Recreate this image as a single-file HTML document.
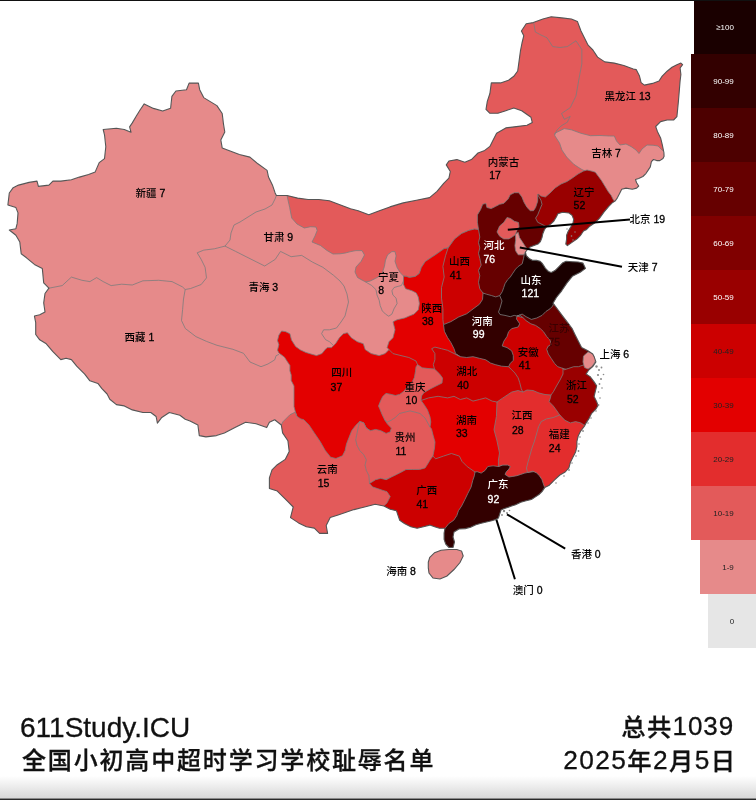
<!DOCTYPE html>
<html><head><meta charset="utf-8"><style>
html,body{margin:0;padding:0;background:#fff;}
body{width:756px;height:800px;position:relative;overflow:hidden;font-family:"Liberation Sans","Noto Sans CJK SC",sans-serif;}
svg text{font-family:"Liberation Sans","Noto Sans CJK SC",sans-serif;font-size:10.5px;font-weight:500;}
.bt{position:absolute;font-size:24px;line-height:1;color:#111;white-space:nowrap;-webkit-text-stroke:0.3px #111;}
.cj{font-weight:500;}
.shade{position:absolute;left:0;top:776px;width:756px;height:22px;background:linear-gradient(#fff,#d8d8d8);}
.topline{position:absolute;left:0;top:0;width:756px;height:1px;background:#111;}
.botline{position:absolute;left:0;top:798px;width:756px;height:2px;background:linear-gradient(#8a8a8a 50%,#2a2a2a 50%);}
</style></head><body>
<svg width="756" height="800" viewBox="0 0 756 800" style="position:absolute;left:0;top:0">
<defs><clipPath id="cn"><polygon points="7.9,204.9 9.3,193 13.2,187.7 18.5,185.1 29.1,182.4 37,181.1 38.4,186.4 48.9,185.1 52.9,181.1 60.8,181.1 71.4,179.8 79.4,177.1 88.6,174.5 95.2,171.9 99.2,162.6 104.5,158.6 105.8,146.7 104.5,134.8 103.2,129.5 116.4,128.2 124.3,129.5 131,132.2 129.6,126.9 132.3,122.9 136.2,116.3 140.2,109.7 144.2,103.9 153.4,108.4 162.7,111 170.6,108.3 171.9,96.3 175.9,91 186.5,89.7 189.1,83.1 198.4,83.1 199.7,89.7 203.7,97.6 210.3,101.6 216.9,105.6 222.2,113.5 223.5,124.1 224.8,132 220.8,139.9 222.2,147.9 228.8,150.5 239.4,154.5 249.9,157.1 257.9,163.8 267.1,170.4 268.5,177 272.4,184.9 275.1,192.9 276.4,195.5 287,195.5 297.6,198.1 308.1,199.5 318.7,199.5 329.3,200.8 339.9,204.8 350.5,208.7 358.2,210.8 368.8,214.8 379.4,210.8 389.9,206.9 403.2,202.9 416.4,200.3 429.6,197.6 437,191.4 443.7,183.4 448.9,178.1 450.3,171.5 446.3,164.9 448.9,161 456.9,159.6 464.8,162.3 471.4,159.6 478,153 484.7,150.4 489.9,146.4 493.9,138.5 496.6,133.2 505.8,127.9 516.4,126.6 527,125.2 532.3,122.6 531,117.3 521.7,110.7 513.8,108 505.8,110.7 497.9,113.3 489.9,113.3 486,109.4 487.3,101.4 489.9,93.5 491.3,82.9 500.5,82.9 508.5,80.3 513.8,76.3 517.7,71 519,61.7 520.4,51.2 522,43 523.8,35.7 521.4,31 526.2,23.8 533.3,22.6 542.9,19 551.2,16.7 561.9,17.9 571.4,19 577.4,21.4 581,31 584.5,38.1 588.1,45.2 592.9,50 597.6,57.1 604.8,61.9 614.3,63.1 623.8,65.5 633.3,69 636.2,69.6 639.5,76.1 641.1,82.6 644.4,85.1 652.5,83.4 659,81 662.2,76.1 667.1,71.2 672,67.2 676.9,64.7 680.9,63.1 682.6,64.7 680.1,68 680.9,74.5 680.1,81 679.3,90.7 678.5,100.5 677.7,108.6 676.9,116.7 673.6,120 667.1,120 660.6,121.6 655.7,126.5 657.4,131.4 660.6,137.9 662.2,144.4 663.9,152.5 664.1,156.3 663,158.5 659.8,160.6 656.7,160.6 653.5,159.5 651.4,161.6 650.3,166.9 648.2,170.1 646.1,173.3 642.9,176.5 638.7,178.6 635.5,179.6 636.6,182.8 638.7,186 636.6,188.1 632.3,189.2 626,188.1 621.7,189.2 619.6,193.4 617.5,197.6 615.4,200.8 612.2,202.9 609,206.1 604.1,211.9 599.4,218.3 594.6,223 589.8,226.2 586.7,229.4 583.5,231 580.3,235.7 577.1,238.9 572.4,242.1 567.4,245.6 565.8,244 566.6,239.2 566.6,235.2 568.2,231.3 570.6,227.3 572.9,223.3 573.7,219.4 572.1,215.4 569,213 562.6,212.2 557.9,213.8 556.3,217 553.9,221 550.7,224.1 546.7,226.5 544.4,229.7 542.8,233.7 542,237.6 540.4,241.6 538,244 534,245.6 530.1,247.1 527.7,249.5 525.4,252 526.3,255.7 529.1,258.5 532.8,260.4 536.5,260.4 540.2,261.3 542,263.1 543.9,265.9 545.7,268.7 548.5,271.5 551.3,272.4 555,270.6 558.7,266.9 562.4,263.1 566.1,261.3 572.3,261.7 578,262 582.9,263.1 585.5,268.4 580.2,272.3 572.3,276.3 567,282.9 561.7,290.8 556.4,297.5 553,303.2 557.8,309.5 562.5,315.9 567.3,322.2 572.1,328.6 575.2,334.9 578.4,341.3 581.6,347.6 587.9,350.8 592.7,354 594.3,357.1 595.9,361.9 592.7,366.7 589,369.8 586.1,374 590.1,376.6 594.1,381.9 596.7,385.9 595.4,391.2 594.1,396.5 596.7,401.7 598,405.7 595.4,409.7 591.4,413.7 588.8,418.9 586.1,422.9 584.8,425.6 580.8,430.8 578.2,436.1 576.9,441.4 576.9,446.7 575.6,452 572.9,457.3 570.3,462.6 568.9,467.9 565.2,472 559.9,475 554.6,479.9 549.3,485.2 544.7,487.6 542,491.6 539.4,494.2 535.4,496.9 531.4,499.5 526.1,500.8 520.8,502.2 515.6,504.8 511.6,506.1 507.6,507.5 503.7,508.8 501,510.1 499.7,514.1 498.4,518 495.7,519.4 491.7,520.7 486.5,522 481.2,523.3 475.9,524.7 470.6,527.3 465.3,528.6 459,529 454,532 453,537 454.5,542 453,547.5 449,547.5 445.7,544.1 444.1,539.4 444.1,533 445,528.3 439.4,528.3 434.6,526.7 429.8,525.1 423.5,526.7 417.1,528.3 410.8,526.7 404.4,523.5 399.7,520.3 398.1,515.6 396.5,510.8 390.2,509.2 383.8,506 375.2,504.3 364.6,507 354,509.6 346.1,512.3 338.1,514.9 330.2,517.6 326.2,525.5 327.6,533.4 319.6,533.4 314.3,528.1 306.4,526.8 298.5,522.9 290.5,517.6 293.2,507 287.9,501.7 282.6,496.4 277.3,491.1 269.4,488.5 269.4,477.9 272,469.9 277.3,464.7 285.2,459.4 289.2,451.4 287.9,440.8 282.6,432.9 281.3,425 274.7,419.7 269.4,422.3 266.7,427.6 256.1,423.7 245.6,422.3 235,427.6 224.4,432.9 216.5,435.6 205.9,436.9 199.3,435.6 197.9,425 190,421 185.2,419.2 179.9,415.2 169.3,412.5 161.4,417.8 157.4,423.1 156.1,416.5 150.8,412.5 142.9,412.5 132.3,409.9 124.3,405.9 116.4,404.6 109.8,399.3 107.1,394 101.9,388.7 97.9,383.4 89.9,380.8 84.7,374.2 76.7,366.2 71.4,359.6 66.1,358.3 60.8,359.6 52.9,351.7 46.3,343.8 39.7,339.8 35.7,334.5 35.7,322.6 34.4,316 39.7,314.7 45,312 43.7,302.8 45,293.5 48.9,288.2 43.7,282.9 42.3,268.4 34.4,264.4 26.5,257.8 21.2,253.8 19.8,242 15.9,235.3 9.3,230 15.9,228.7 17.2,223.4 18,212.9 15.9,207.6"/></clipPath></defs>
<g clip-path="url(#cn)">
<polygon points="7.9,204.9 9.3,193 13.2,187.7 18.5,185.1 29.1,182.4 37,181.1 38.4,186.4 48.9,185.1 52.9,181.1 60.8,181.1 71.4,179.8 79.4,177.1 88.6,174.5 95.2,171.9 99.2,162.6 104.5,158.6 105.8,146.7 104.5,134.8 103.2,129.5 116.4,128.2 124.3,129.5 131,132.2 129.6,126.9 132.3,122.9 136.2,116.3 140.2,109.7 144.2,103.9 153.4,108.4 162.7,111 170.6,108.3 171.9,96.3 175.9,91 186.5,89.7 189.1,83.1 198.4,83.1 199.7,89.7 203.7,97.6 210.3,101.6 216.9,105.6 222.2,113.5 223.5,124.1 224.8,132 220.8,139.9 222.2,147.9 228.8,150.5 239.4,154.5 249.9,157.1 257.9,163.8 267.1,170.4 268.5,177 272.4,184.9 275.1,192.9 276.4,195.5 287,195.5 297.6,198.1 308.1,199.5 318.7,199.5 329.3,200.8 339.9,204.8 350.5,208.7 358.2,210.8 368.8,214.8 379.4,210.8 389.9,206.9 403.2,202.9 416.4,200.3 429.6,197.6 437,191.4 443.7,183.4 448.9,178.1 450.3,171.5 446.3,164.9 448.9,161 456.9,159.6 464.8,162.3 471.4,159.6 478,153 484.7,150.4 489.9,146.4 493.9,138.5 496.6,133.2 505.8,127.9 516.4,126.6 527,125.2 532.3,122.6 531,117.3 521.7,110.7 513.8,108 505.8,110.7 497.9,113.3 489.9,113.3 486,109.4 487.3,101.4 489.9,93.5 491.3,82.9 500.5,82.9 508.5,80.3 513.8,76.3 517.7,71 519,61.7 520.4,51.2 522,43 523.8,35.7 521.4,31 526.2,23.8 533.3,22.6 542.9,19 551.2,16.7 561.9,17.9 571.4,19 577.4,21.4 581,31 584.5,38.1 588.1,45.2 592.9,50 597.6,57.1 604.8,61.9 614.3,63.1 623.8,65.5 633.3,69 636.2,69.6 639.5,76.1 641.1,82.6 644.4,85.1 652.5,83.4 659,81 662.2,76.1 667.1,71.2 672,67.2 676.9,64.7 680.9,63.1 682.6,64.7 680.1,68 680.9,74.5 680.1,81 679.3,90.7 678.5,100.5 677.7,108.6 676.9,116.7 673.6,120 667.1,120 660.6,121.6 655.7,126.5 657.4,131.4 660.6,137.9 662.2,144.4 663.9,152.5 664.1,156.3 663,158.5 659.8,160.6 656.7,160.6 653.5,159.5 651.4,161.6 650.3,166.9 648.2,170.1 646.1,173.3 642.9,176.5 638.7,178.6 635.5,179.6 636.6,182.8 638.7,186 636.6,188.1 632.3,189.2 626,188.1 621.7,189.2 619.6,193.4 617.5,197.6 615.4,200.8 612.2,202.9 609,206.1 604.1,211.9 599.4,218.3 594.6,223 589.8,226.2 586.7,229.4 583.5,231 580.3,235.7 577.1,238.9 572.4,242.1 567.4,245.6 565.8,244 566.6,239.2 566.6,235.2 568.2,231.3 570.6,227.3 572.9,223.3 573.7,219.4 572.1,215.4 569,213 562.6,212.2 557.9,213.8 556.3,217 553.9,221 550.7,224.1 546.7,226.5 544.4,229.7 542.8,233.7 542,237.6 540.4,241.6 538,244 534,245.6 530.1,247.1 527.7,249.5 525.4,252 526.3,255.7 529.1,258.5 532.8,260.4 536.5,260.4 540.2,261.3 542,263.1 543.9,265.9 545.7,268.7 548.5,271.5 551.3,272.4 555,270.6 558.7,266.9 562.4,263.1 566.1,261.3 572.3,261.7 578,262 582.9,263.1 585.5,268.4 580.2,272.3 572.3,276.3 567,282.9 561.7,290.8 556.4,297.5 553,303.2 557.8,309.5 562.5,315.9 567.3,322.2 572.1,328.6 575.2,334.9 578.4,341.3 581.6,347.6 587.9,350.8 592.7,354 594.3,357.1 595.9,361.9 592.7,366.7 589,369.8 586.1,374 590.1,376.6 594.1,381.9 596.7,385.9 595.4,391.2 594.1,396.5 596.7,401.7 598,405.7 595.4,409.7 591.4,413.7 588.8,418.9 586.1,422.9 584.8,425.6 580.8,430.8 578.2,436.1 576.9,441.4 576.9,446.7 575.6,452 572.9,457.3 570.3,462.6 568.9,467.9 565.2,472 559.9,475 554.6,479.9 549.3,485.2 544.7,487.6 542,491.6 539.4,494.2 535.4,496.9 531.4,499.5 526.1,500.8 520.8,502.2 515.6,504.8 511.6,506.1 507.6,507.5 503.7,508.8 501,510.1 499.7,514.1 498.4,518 495.7,519.4 491.7,520.7 486.5,522 481.2,523.3 475.9,524.7 470.6,527.3 465.3,528.6 459,529 454,532 453,537 454.5,542 453,547.5 449,547.5 445.7,544.1 444.1,539.4 444.1,533 445,528.3 439.4,528.3 434.6,526.7 429.8,525.1 423.5,526.7 417.1,528.3 410.8,526.7 404.4,523.5 399.7,520.3 398.1,515.6 396.5,510.8 390.2,509.2 383.8,506 375.2,504.3 364.6,507 354,509.6 346.1,512.3 338.1,514.9 330.2,517.6 326.2,525.5 327.6,533.4 319.6,533.4 314.3,528.1 306.4,526.8 298.5,522.9 290.5,517.6 293.2,507 287.9,501.7 282.6,496.4 277.3,491.1 269.4,488.5 269.4,477.9 272,469.9 277.3,464.7 285.2,459.4 289.2,451.4 287.9,440.8 282.6,432.9 281.3,425 274.7,419.7 269.4,422.3 266.7,427.6 256.1,423.7 245.6,422.3 235,427.6 224.4,432.9 216.5,435.6 205.9,436.9 199.3,435.6 197.9,425 190,421 185.2,419.2 179.9,415.2 169.3,412.5 161.4,417.8 157.4,423.1 156.1,416.5 150.8,412.5 142.9,412.5 132.3,409.9 124.3,405.9 116.4,404.6 109.8,399.3 107.1,394 101.9,388.7 97.9,383.4 89.9,380.8 84.7,374.2 76.7,366.2 71.4,359.6 66.1,358.3 60.8,359.6 52.9,351.7 46.3,343.8 39.7,339.8 35.7,334.5 35.7,322.6 34.4,316 39.7,314.7 45,312 43.7,302.8 45,293.5 48.9,288.2 43.7,282.9 42.3,268.4 34.4,264.4 26.5,257.8 21.2,253.8 19.8,242 15.9,235.3 9.3,230 15.9,228.7 17.2,223.4 18,212.9 15.9,207.6" fill="#e68a8a"/>
<polyline points="48.9,288.2 62.2,285.6 71.4,277.1 82,280.3 89.9,281.6 96.6,277.6 103.2,281.6 111.1,285.6 121.7,284.2 132.3,285 142.9,280.8 158.7,280.3 172,281.6 182.5,286.9 185.2,289.5" fill="none" stroke="#7c7c7c" stroke-width="0.8"/>
<polyline points="185.2,289.5 190.6,288.5 201.2,284.5 206.5,277.9 205.1,267.3 201.2,259.4 197.2,252.8 203.8,250.1 214.4,248.8 225,246.1" fill="none" stroke="#7c7c7c" stroke-width="0.8"/>
<polyline points="225,246.1 230,240 231,233 234,225 240,222 248,217 256,212 265,209 272,205 275,199 276.4,195.5" fill="none" stroke="#7c7c7c" stroke-width="0.8"/>
<polyline points="185.2,289.5 183.5,299 182.6,309.6 181.5,320.5 185.3,328.5 195.9,336.6 206.5,341.4 217,345.3 232.9,349.3 243.5,353.3 250,362 261,366.7 267.9,364 274.7,359.9 276.1,355.7 278.9,354.4" fill="none" stroke="#7c7c7c" stroke-width="0.8"/>
<polyline points="225,246.1 235.6,251.4 246.1,256.7 256.7,262 264.7,266 275.2,259.4 280.5,251.4 291.1,256.7 301.7,255.4 312.3,262 322.9,267.3 333.4,275.2 340,281 344,286 347,294 348.5,302 347,308 345,316 341,322 336.5,328 329.5,329.8 323.6,329.8 321.6,333.7 325.6,339.7 329.5,341.7 333.5,345.6" fill="none" stroke="#7c7c7c" stroke-width="0.8"/>
<polygon points="365.4,281.8 371.7,285.5 376,289.7 377,295 379.2,300.3 380.2,305.6 382.3,310.9 385.5,314.1 388.7,316.2 391.9,314.1 394,308.8 397.1,303.5 396.1,298.2 392.9,295 391.9,290.8 394,287.6 397.1,286.6 401.4,285.5 403.5,281 404.6,277 410,270 400,245 385,245 370,270" fill="#e68a8a" stroke="#7c7c7c" stroke-width="0.8" stroke-linejoin="round"/>
<polygon points="287,185 287,195.5 289.7,207.5 291.7,218 297,224 304.3,228 310.6,226.7 316,227 317.2,230.5 315,236 312,242 320.5,245.5 327,250.5 333,254 340,253.8 345.3,253 350.6,251.6 355.9,250.6 362,250.6 364.5,255 361,261.5 356,267 355,272 357.5,277.5 362.2,280.2 365.4,281.8 369.6,281.3 373.9,279.2 378.1,277 382.3,272.8 384.4,266.5 385.5,260.1 387.6,254.8 391.9,251.6 395,251.6 396.1,255.9 395,261.2 397.1,267.5 400.3,272.8 403.5,276 406.7,276.5 409.4,277.4 415.3,276.4 419.3,273.4 421.3,267.5 425.2,261.5 431.2,257.5 437.1,253.6 444.1,248.6 448.1,247.9 454.5,239 461.5,233.5 468.5,230.5 474.5,229 478.5,229.5 500,236 540,215 585.7,171.4 581,169 573.8,164.3 566.7,157.1 561.9,150 559.5,142.9 554.8,135.7 554.8,133.3 564.3,128.6 571.4,129.8 581,133.3 590.5,135.7 600,135.5 609.5,136 614.3,136 616.5,141 620,145 626,144 631,146.5 636,150 639,153.5 642,149 647,145 653,145.2 658,146 662.5,150.5 672,152 700,60 690,0 500,0 460,140 290,180" fill="#e35a5a" stroke="#7c7c7c" stroke-width="0.8" stroke-linejoin="round"/>
<polygon points="403.5,281 403.5,276 406.7,276.5 409.4,277.4 415.3,276.4 419.3,273.4 421.3,267.5 425.2,261.5 431.2,257.5 437.1,253.6 444.1,248.6 448.1,247.9 456,262 456,315 452,335 460,352 440,366 425,376 405,370 392,360 389,349.6 387.1,347.6 389,341.7 393,337.7 395,329.8 393,321.8 397,319.8 404.9,317.9 408.8,316.2 414.1,314.1 418.3,309.8 419.4,303.5 418.3,297.1 416.2,292.9 412,290.8 405.6,288.7 403.5,284.4" fill="#e30000" stroke="#7c7c7c" stroke-width="0.8" stroke-linejoin="round"/>
<polygon points="281.6,331 285.7,331.7 289.9,333.7 291.5,340 295.6,346.5 300.5,350 306,352.5 311,354 316.5,355.6 322,353.5 325.6,349 327.5,347.6 331.5,347.6 335.5,343.7 339.4,337.7 343.4,333.7 347.4,332.7 351.3,337.7 357.3,341.7 363.3,343.7 365.2,349.6 371.2,353.6 379.1,355.6 385.1,353.6 389,349.6 393,353.6 401,355.6 408.9,357.5 416,361 417.5,364.6 428,385 418,408 400,420 395,440 370,440 350,462 335,465 318,450 300,425 295.4,412 294,406.6 294,399.7 294,392.9 294,386 291.2,380.5 291.2,375 289.9,370.9 289.9,365.4 287.1,361.2 284.4,357.1 278.9,353 277.5,350.2 278.9,344.7 277.5,340.6 278.9,335.1" fill="#e30000" stroke="#7c7c7c" stroke-width="0.8" stroke-linejoin="round"/>
<polygon points="281.3,425 275,435 260,480 280,545 400,540 395,500 380,470 370,445 372,434 370.3,430.7 366.3,428.1 363.7,422.8 359.7,421.5 355.7,425.4 351.7,430.7 349.1,437.3 346.5,443.9 345.1,450.6 342.5,455.8 335.9,458.5 330.6,457.2 325.3,450.6 320,441.3 314.3,432.9 309,425 303.8,419.7 300.9,419 296.7,416.2 295.4,412 289.9,414.8 285.7,419 283,421.7" fill="#e35a5a" stroke="#7c7c7c" stroke-width="0.8" stroke-linejoin="round"/>
<polygon points="359.7,421.5 363.7,422.8 366.3,428.1 370.3,430.7 375.6,429.4 380.8,430.7 386.1,433.4 390.1,432 391.4,428.1 387.5,424.1 384.8,420.1 390,405 420,400 440,420 440,460 420,480 390,478 369.5,483.5 368.9,475.7 366.3,470.4 365,465.1 366.3,459.8 363.7,454.5 359.7,450.6 357,445.3 355.7,440 357,433.4 358.4,426.7 359.7,421.5" fill="#e35a5a" stroke="#7c7c7c" stroke-width="0.8" stroke-linejoin="round"/>
<polygon points="417.5,364.6 416,366.9 415.5,371.2 414.4,377.5 412.3,381.7 408.1,386 403.9,391.3 399.6,394.4 395.4,395.5 391.2,394.4 385.9,393.4 382.7,396.6 380.6,400.8 378.5,406.1 379.5,408.2 382.2,414.8 384.8,420.1 387.5,422 391.4,420.1 395.4,417.5 399.4,413.5 404.7,412.2 410,410.9 415.2,412.2 420,413.5 425,418 430,427 440,420 440,400 450,375 434.5,369 428,368.5 422.2,367.8" fill="#e35a5a" stroke="#7c7c7c" stroke-width="0.8" stroke-linejoin="round"/>
<polygon points="448.1,247.9 454.5,239 461.5,233.5 468.5,230.5 474.5,229 478.5,229.5 490,240 492,290 485,300 470,316 448,330 443.5,324.6 442.9,319.3 442.9,308.7 441.5,298.1 441.5,287.6 444.2,277 442.9,266.4 445.5,255.8 448.1,247.9" fill="#cc0000" stroke="#7c7c7c" stroke-width="0.8" stroke-linejoin="round"/>
<polygon points="478.5,229.5 477.4,222.3 477.4,214.9 480.6,209.6 482.7,204.3 485.9,203.3 486.9,207.5 491.2,208.6 495.4,206.5 499.6,204.3 503.9,203.3 508.1,199 510.2,194.8 514.4,192.7 518.7,192.7 521.9,196.9 524,202.2 527.1,207.5 530.3,210.7 533.5,210.7 535.6,207.5 537.7,201.2 537.7,194.8 538.3,194 545,205 552,228 540,255 515,275 500,300 490,300 483,293 479.8,288.9 478.5,282.3 479.8,275.7 478.5,270.4 481.2,265.1 479.8,258.5 478.5,253.2 479.8,247.9 478.5,242.6 479.8,237 478.5,229.5" fill="#660000" stroke="#7c7c7c" stroke-width="0.8" stroke-linejoin="round"/>
<polygon points="538.3,194 541,196 545.4,197 550,193 555,188 561,184 567,181.5 572.4,178 578,174 583.5,171 587,170 592.1,171.2 595.3,172.2 598.5,176.5 601.6,180.7 604.8,186 608,191.3 611.2,195.5 613.3,199.7 614.8,201.5 620,205 600,255 560,250 552,232 548,227 546.2,226.6 542,224.4 537.7,222.3 535.6,218.1 537.7,214.9 539.8,209.6 542,204.3 540.9,200.1 537.7,194.8" fill="#990000" stroke="#7c7c7c" stroke-width="0.8" stroke-linejoin="round"/>
<polygon points="443.5,324.6 450.8,321.7 458.7,317 466.7,313.8 473,309 479.4,304.3 482.5,299.5 483,293 486.5,294.2 491.7,295.6 495.7,296.9 499.7,295.6 515,305 525,330 520,350 515,372 470,368 460.3,356.7 455.6,353.5 454,348.7 450.8,342.4 447.6,337.6 444.4,331.3 443.5,324.6" fill="#330000" stroke="#7c7c7c" stroke-width="0.8" stroke-linejoin="round"/>
<polygon points="530,252 590,255 592,278 562,300 552,312 530,322 517,316 514.2,315.4 510.3,316.7 505,315.4 500,314.5 498.5,312 500,308 502,301 499.7,295.6 502.3,291.6 503.7,287.6 505,283.7 507.6,279.7 510.3,277 512.9,273.1 515.6,269.1 518.2,266.5 522.2,263.8 523.5,258.5 524.8,251.9" fill="#1a0000" stroke="#7c7c7c" stroke-width="0.8" stroke-linejoin="round"/>
<polygon points="460.3,356.7 466.7,357.5 473,356.7 479.4,358.3 485.7,359.8 490.5,363 495.2,364.6 501.6,366.2 508.6,366.7 520,375 528,395 500,410 470,410 430,405 421,400.5 421.5,396 424,392.5 431,388.5 437,385.5 442,383 442.5,378 439.7,374.1 434.5,369 433.3,364.6 434.9,359.8 434.9,353.5 431.7,348.7 434.9,347.1 441.3,348.7 447.6,350.3 454,353.5 460.3,356.7" fill="#cc0000" stroke="#7c7c7c" stroke-width="0.8" stroke-linejoin="round"/>
<polygon points="421,400.5 428.6,397.9 438.1,396.3 447.6,397.9 454,396.3 460.3,399.5 466.7,397.9 473,401.1 479.4,399.5 485.7,397.9 492.1,401.1 497,402 505,420 505,460 505,475 470,482 440,470 432.9,456.1 434.5,448 435,442 433,435 431.5,429 430,427 430.8,422 430,417 427.5,410 424,404.5 421,400.5" fill="#e30000" stroke="#7c7c7c" stroke-width="0.8" stroke-linejoin="round"/>
<polygon points="369.5,483.5 375.6,479.7 380.8,478.3 386.1,479.7 391.4,477 396.7,474.4 402,471.7 406,469.5 412.4,469.5 419.7,469.4 425.1,467.9 427.6,464.1 430,460 432.9,456.1 435.6,458.8 443.5,456.1 451.4,453.5 459.4,456.1 462,461.4 467.3,466.7 475,472 480,480 468,505 455,525 440,535 400,535 385,515 383.8,506 387,502.9 390.2,496.5 387,491.7 382.2,490.2 377.5,488.6 372.7,487 369.5,483.5" fill="#cc0000" stroke="#7c7c7c" stroke-width="0.8" stroke-linejoin="round"/>
<polygon points="445,528.3 448.9,523.5 453.7,520.3 456.8,515.6 458.4,510.8 461.6,506 464.8,499.7 467.9,493.3 471.1,487 472.7,480.6 474.3,475.9 475,472 477.2,471.7 481.2,473.1 485.1,470.4 487.8,466.5 493.1,465.8 498.4,466.5 510,462 536,462 548,478 560,490 540,520 470,540 455,560 440,545 440,532" fill="#330000" stroke="#7c7c7c" stroke-width="0.8" stroke-linejoin="round"/>
<polygon points="517,316 516.5,319 519.7,323.8 518.1,327 511.7,328.6 508.6,331.7 507,336.5 503.8,341.3 502.2,346 507,347.6 511.7,350.8 513.3,355.6 513.3,360.3 510.2,363.5 508.6,366.7 511.7,369.8 514.9,373 518.1,377.8 519.7,382.5 521.3,388.9 522.9,392.1 530,398 552,402 575,375 560,340 535,321" fill="#cc0000" stroke="#7c7c7c" stroke-width="0.8" stroke-linejoin="round"/>
<polygon points="517,316 522.2,314.1 526.1,316.7 531.4,319.4 536.7,318 542,315.4 546,311.4 550,308.8 552.6,306.1 553.5,304 565,300 600,350 590,368 575,372 562.5,368.3 557.8,366.7 554.6,363.5 551.4,358.7 548.3,354 546.7,349.2 548.3,346 551.4,344.4 549.8,339.7 546.7,336.5 543.5,331.7 540.3,328.6 535.6,325.4 530.8,323.8 526,320.6 522.9,317.5 519.7,315.1 517,316" fill="#660000" stroke="#7c7c7c" stroke-width="0.8" stroke-linejoin="round"/>
<polygon points="497,402 502.2,398.4 507,395.2 511.7,392.1 518.1,390.5 522.9,392.1 527,390 533,390.5 539,393 545,394.5 551,395 565,400 560,425 545,470 527.5,472.5 524.8,473.1 520.8,474.4 516.9,475.7 512.9,476.4 508.9,477 505,474.4 506.3,471.7 508.9,469.1 510.3,466.5 507.6,465.1 502.3,465.1 498.4,466.5 498.4,460 499.5,453 497,441 494,429.7 496.4,416.5 497,402" fill="#e32d2d" stroke="#7c7c7c" stroke-width="0.8" stroke-linejoin="round"/>
<polygon points="562.5,368.3 564.1,369.8 568.9,368.3 573.7,366.7 578.4,366.7 583.2,365.1 590,362 600,370 600,420 570,430 559.7,415 557,411 553.1,405.7 549.1,401.7 550.4,397.8 551,395 553.5,391.5 556.5,386 560,380 563,374 563,369 562.5,368.3" fill="#990000" stroke="#7c7c7c" stroke-width="0.8" stroke-linejoin="round"/>
<polygon points="559.7,415 565,420.3 570.3,422.9 575.6,421.6 580.8,422.9 584.8,425.6 600,430 590,480 550,500 544.7,487.6 543.3,483.7 542,479.7 539.4,475.7 536.7,473.1 532.8,471.1 527.5,472.5 526.5,468 528,462 530,455 532,448 534.5,441 536.5,434 538.5,426.9 541.2,421.6 546.5,418.9 553.1,417.6 559.7,415" fill="#e32d2d" stroke="#7c7c7c" stroke-width="0.8" stroke-linejoin="round"/>
<polygon points="583.5,356 588,352 593,352.5 596,357 595,362 592,366.5 588,369 584.5,367.5 583,362" fill="#e68a8a" stroke="#7c7c7c" stroke-width="0.8" stroke-linejoin="round"/>
<polygon points="497,232 499.6,226 503.9,222.3 507,217.5 510.5,218.5 514.4,221.3 518.5,222.5 519,227 516.9,230.5 515.5,234.5 512.9,236.5 508.9,238.9 503.7,238.9 499.7,236.3" fill="#e35a5a" stroke="#7c7c7c" stroke-width="0.8" stroke-linejoin="round"/>
<polygon points="515.5,234.5 518.2,232.3 519.5,237.6 522.2,241.6 525,246 527.7,249.5 525.4,252 523.5,254.8 518.2,254.8 515.6,250.8 514.9,245.6 515.6,240.3" fill="#e68a8a" stroke="#7c7c7c" stroke-width="0.8" stroke-linejoin="round"/>
<polyline points="533.8,23.3 535.3,32 541,35 547,37.8 552.7,46.6 560,47.5 567.3,46.6 576,40.8 581.8,49.5 581.8,64 579,78.6 576,96 570.2,107.7 561.5,113.5 564.4,119.3 570.2,116.4 567.3,122.2 561,126 557,130 554.8,134.5" fill="none" stroke="#7c7c7c" stroke-width="0.8"/>
</g>
<polygon points="7.9,204.9 9.3,193 13.2,187.7 18.5,185.1 29.1,182.4 37,181.1 38.4,186.4 48.9,185.1 52.9,181.1 60.8,181.1 71.4,179.8 79.4,177.1 88.6,174.5 95.2,171.9 99.2,162.6 104.5,158.6 105.8,146.7 104.5,134.8 103.2,129.5 116.4,128.2 124.3,129.5 131,132.2 129.6,126.9 132.3,122.9 136.2,116.3 140.2,109.7 144.2,103.9 153.4,108.4 162.7,111 170.6,108.3 171.9,96.3 175.9,91 186.5,89.7 189.1,83.1 198.4,83.1 199.7,89.7 203.7,97.6 210.3,101.6 216.9,105.6 222.2,113.5 223.5,124.1 224.8,132 220.8,139.9 222.2,147.9 228.8,150.5 239.4,154.5 249.9,157.1 257.9,163.8 267.1,170.4 268.5,177 272.4,184.9 275.1,192.9 276.4,195.5 287,195.5 297.6,198.1 308.1,199.5 318.7,199.5 329.3,200.8 339.9,204.8 350.5,208.7 358.2,210.8 368.8,214.8 379.4,210.8 389.9,206.9 403.2,202.9 416.4,200.3 429.6,197.6 437,191.4 443.7,183.4 448.9,178.1 450.3,171.5 446.3,164.9 448.9,161 456.9,159.6 464.8,162.3 471.4,159.6 478,153 484.7,150.4 489.9,146.4 493.9,138.5 496.6,133.2 505.8,127.9 516.4,126.6 527,125.2 532.3,122.6 531,117.3 521.7,110.7 513.8,108 505.8,110.7 497.9,113.3 489.9,113.3 486,109.4 487.3,101.4 489.9,93.5 491.3,82.9 500.5,82.9 508.5,80.3 513.8,76.3 517.7,71 519,61.7 520.4,51.2 522,43 523.8,35.7 521.4,31 526.2,23.8 533.3,22.6 542.9,19 551.2,16.7 561.9,17.9 571.4,19 577.4,21.4 581,31 584.5,38.1 588.1,45.2 592.9,50 597.6,57.1 604.8,61.9 614.3,63.1 623.8,65.5 633.3,69 636.2,69.6 639.5,76.1 641.1,82.6 644.4,85.1 652.5,83.4 659,81 662.2,76.1 667.1,71.2 672,67.2 676.9,64.7 680.9,63.1 682.6,64.7 680.1,68 680.9,74.5 680.1,81 679.3,90.7 678.5,100.5 677.7,108.6 676.9,116.7 673.6,120 667.1,120 660.6,121.6 655.7,126.5 657.4,131.4 660.6,137.9 662.2,144.4 663.9,152.5 664.1,156.3 663,158.5 659.8,160.6 656.7,160.6 653.5,159.5 651.4,161.6 650.3,166.9 648.2,170.1 646.1,173.3 642.9,176.5 638.7,178.6 635.5,179.6 636.6,182.8 638.7,186 636.6,188.1 632.3,189.2 626,188.1 621.7,189.2 619.6,193.4 617.5,197.6 615.4,200.8 612.2,202.9 609,206.1 604.1,211.9 599.4,218.3 594.6,223 589.8,226.2 586.7,229.4 583.5,231 580.3,235.7 577.1,238.9 572.4,242.1 567.4,245.6 565.8,244 566.6,239.2 566.6,235.2 568.2,231.3 570.6,227.3 572.9,223.3 573.7,219.4 572.1,215.4 569,213 562.6,212.2 557.9,213.8 556.3,217 553.9,221 550.7,224.1 546.7,226.5 544.4,229.7 542.8,233.7 542,237.6 540.4,241.6 538,244 534,245.6 530.1,247.1 527.7,249.5 525.4,252 526.3,255.7 529.1,258.5 532.8,260.4 536.5,260.4 540.2,261.3 542,263.1 543.9,265.9 545.7,268.7 548.5,271.5 551.3,272.4 555,270.6 558.7,266.9 562.4,263.1 566.1,261.3 572.3,261.7 578,262 582.9,263.1 585.5,268.4 580.2,272.3 572.3,276.3 567,282.9 561.7,290.8 556.4,297.5 553,303.2 557.8,309.5 562.5,315.9 567.3,322.2 572.1,328.6 575.2,334.9 578.4,341.3 581.6,347.6 587.9,350.8 592.7,354 594.3,357.1 595.9,361.9 592.7,366.7 589,369.8 586.1,374 590.1,376.6 594.1,381.9 596.7,385.9 595.4,391.2 594.1,396.5 596.7,401.7 598,405.7 595.4,409.7 591.4,413.7 588.8,418.9 586.1,422.9 584.8,425.6 580.8,430.8 578.2,436.1 576.9,441.4 576.9,446.7 575.6,452 572.9,457.3 570.3,462.6 568.9,467.9 565.2,472 559.9,475 554.6,479.9 549.3,485.2 544.7,487.6 542,491.6 539.4,494.2 535.4,496.9 531.4,499.5 526.1,500.8 520.8,502.2 515.6,504.8 511.6,506.1 507.6,507.5 503.7,508.8 501,510.1 499.7,514.1 498.4,518 495.7,519.4 491.7,520.7 486.5,522 481.2,523.3 475.9,524.7 470.6,527.3 465.3,528.6 459,529 454,532 453,537 454.5,542 453,547.5 449,547.5 445.7,544.1 444.1,539.4 444.1,533 445,528.3 439.4,528.3 434.6,526.7 429.8,525.1 423.5,526.7 417.1,528.3 410.8,526.7 404.4,523.5 399.7,520.3 398.1,515.6 396.5,510.8 390.2,509.2 383.8,506 375.2,504.3 364.6,507 354,509.6 346.1,512.3 338.1,514.9 330.2,517.6 326.2,525.5 327.6,533.4 319.6,533.4 314.3,528.1 306.4,526.8 298.5,522.9 290.5,517.6 293.2,507 287.9,501.7 282.6,496.4 277.3,491.1 269.4,488.5 269.4,477.9 272,469.9 277.3,464.7 285.2,459.4 289.2,451.4 287.9,440.8 282.6,432.9 281.3,425 274.7,419.7 269.4,422.3 266.7,427.6 256.1,423.7 245.6,422.3 235,427.6 224.4,432.9 216.5,435.6 205.9,436.9 199.3,435.6 197.9,425 190,421 185.2,419.2 179.9,415.2 169.3,412.5 161.4,417.8 157.4,423.1 156.1,416.5 150.8,412.5 142.9,412.5 132.3,409.9 124.3,405.9 116.4,404.6 109.8,399.3 107.1,394 101.9,388.7 97.9,383.4 89.9,380.8 84.7,374.2 76.7,366.2 71.4,359.6 66.1,358.3 60.8,359.6 52.9,351.7 46.3,343.8 39.7,339.8 35.7,334.5 35.7,322.6 34.4,316 39.7,314.7 45,312 43.7,302.8 45,293.5 48.9,288.2 43.7,282.9 42.3,268.4 34.4,264.4 26.5,257.8 21.2,253.8 19.8,242 15.9,235.3 9.3,230 15.9,228.7 17.2,223.4 18,212.9 15.9,207.6" fill="none" stroke="#555" stroke-width="1.1" stroke-linejoin="round"/>
<polygon points="429.8,557.4 434.6,552.7 441,550.3 448.9,549.5 456.8,549.5 461.6,551.1 463.2,556 460,562.5 454,569.5 447,576 440,579 433,578 429,573 428.3,567.9 428.3,562.2" fill="#e68a8a" stroke="#555" stroke-width="1.1"/>
<circle cx="596.5" cy="366.5" r="1.2" fill="#8a8a8a"/>
<circle cx="599" cy="370" r="1.0" fill="#8a8a8a"/>
<circle cx="601.5" cy="367.5" r="0.9" fill="#8a8a8a"/>
<circle cx="598" cy="375" r="1.1" fill="#8a8a8a"/>
<circle cx="601" cy="379" r="1.0" fill="#8a8a8a"/>
<circle cx="603.5" cy="374.5" r="0.8" fill="#8a8a8a"/>
<circle cx="599.5" cy="384" r="0.9" fill="#8a8a8a"/>
<circle cx="602" cy="388" r="0.8" fill="#8a8a8a"/>
<circle cx="598.5" cy="392" r="0.8" fill="#8a8a8a"/>
<circle cx="600" cy="398" r="0.8" fill="#8a8a8a"/>
<circle cx="598.5" cy="405" r="0.9" fill="#8a8a8a"/>
<circle cx="596" cy="411" r="0.8" fill="#8a8a8a"/>
<circle cx="591" cy="418" r="0.8" fill="#8a8a8a"/>
<circle cx="588" cy="423" r="0.8" fill="#8a8a8a"/>
<circle cx="583" cy="431" r="0.9" fill="#8a8a8a"/>
<circle cx="580" cy="437" r="0.8" fill="#8a8a8a"/>
<circle cx="579" cy="444" r="0.8" fill="#8a8a8a"/>
<circle cx="578.5" cy="451" r="0.9" fill="#8a8a8a"/>
<circle cx="576" cy="456" r="0.8" fill="#8a8a8a"/>
<circle cx="572" cy="463" r="0.8" fill="#8a8a8a"/>
<circle cx="569" cy="470" r="0.9" fill="#8a8a8a"/>
<circle cx="564" cy="476" r="0.8" fill="#8a8a8a"/>
<circle cx="556" cy="483" r="0.8" fill="#8a8a8a"/>
<circle cx="571.5" cy="236" r="0.8" fill="#8a8a8a"/>
<circle cx="573" cy="240" r="0.7" fill="#8a8a8a"/>
<circle cx="504" cy="511" r="1.2" fill="#8a8a8a"/>
<circle cx="507" cy="513" r="1.0" fill="#8a8a8a"/>
<circle cx="502" cy="515" r="0.9" fill="#8a8a8a"/>
<circle cx="509.5" cy="510.5" r="0.8" fill="#8a8a8a"/>
<circle cx="567" cy="229" r="0.7" fill="#8a8a8a"/>
<circle cx="575" cy="232" r="0.7" fill="#8a8a8a"/>
<rect x="694" y="0" width="62" height="54" fill="#1a0000"/><text x="725.0" y="30.2" fill="#fff" text-anchor="middle" style="font-size:8px;font-weight:normal">≥100</text><rect x="691" y="54" width="65" height="54" fill="#330000"/><text x="723.5" y="84.2" fill="#fff" text-anchor="middle" style="font-size:8px;font-weight:normal">90-99</text><rect x="691" y="108" width="65" height="54" fill="#4d0000"/><text x="723.5" y="138.2" fill="#fff" text-anchor="middle" style="font-size:8px;font-weight:normal">80-89</text><rect x="691" y="162" width="65" height="54" fill="#660000"/><text x="723.5" y="192.2" fill="#fff" text-anchor="middle" style="font-size:8px;font-weight:normal">70-79</text><rect x="691" y="216" width="65" height="54" fill="#800000"/><text x="723.5" y="246.2" fill="#fff" text-anchor="middle" style="font-size:8px;font-weight:normal">60-69</text><rect x="691" y="270" width="65" height="54" fill="#990000"/><text x="723.5" y="300.2" fill="#fff" text-anchor="middle" style="font-size:8px;font-weight:normal">50-59</text><rect x="691" y="324" width="65" height="54" fill="#cc0000"/><text x="723.5" y="354.2" fill="#222" text-anchor="middle" style="font-size:8px;font-weight:normal">40-49</text><rect x="691" y="378" width="65" height="54" fill="#e30000"/><text x="723.5" y="408.2" fill="#222" text-anchor="middle" style="font-size:8px;font-weight:normal">30-39</text><rect x="691" y="432" width="65" height="54" fill="#e32d2d"/><text x="723.5" y="462.2" fill="#222" text-anchor="middle" style="font-size:8px;font-weight:normal">20-29</text><rect x="691" y="486" width="65" height="54" fill="#e35a5a"/><text x="723.5" y="516.2" fill="#222" text-anchor="middle" style="font-size:8px;font-weight:normal">10-19</text><rect x="700" y="540" width="56" height="54" fill="#e68a8a"/><text x="728.0" y="570.2" fill="#222" text-anchor="middle" style="font-size:8px;font-weight:normal">1-9</text><rect x="708" y="594" width="48" height="54" fill="#e6e6e6"/><text x="732.0" y="624.2" fill="#222" text-anchor="middle" style="font-size:8px;font-weight:normal">0</text>
<line x1="507.8" y1="229.8" x2="630" y2="219.5" stroke="#000" stroke-width="2"/><line x1="519.8" y1="247.4" x2="622" y2="266.7" stroke="#000" stroke-width="2"/><line x1="507" y1="514.3" x2="565.2" y2="548.7" stroke="#000" stroke-width="2"/><line x1="496.4" y1="519.6" x2="514.9" y2="579.2" stroke="#000" stroke-width="2"/><text x="135.5" y="197.4" fill="#000000">新疆 <tspan stroke="#000000" stroke-width="0.3">7</tspan></text><text x="124.6" y="340.6" fill="#000000">西藏 <tspan stroke="#000000" stroke-width="0.3">1</tspan></text><text x="248.4" y="291.0" fill="#000000">青海 <tspan stroke="#000000" stroke-width="0.3">3</tspan></text><text x="263.4" y="240.6" fill="#000000">甘肃 <tspan stroke="#000000" stroke-width="0.3">9</tspan></text><text x="378.0" y="280.6" fill="#000000">宁夏</text><text x="378.2" y="294.0" fill="#000000"><tspan stroke="#000000" stroke-width="0.3">8</tspan></text><text x="487.8" y="166.2" fill="#000000">内蒙古</text><text x="489.2" y="179.2" fill="#000000"><tspan stroke="#000000" stroke-width="0.3">17</tspan></text><text x="604.6" y="100.4" fill="#000000">黑龙江 <tspan stroke="#000000" stroke-width="0.3">13</tspan></text><text x="591.2" y="156.6" fill="#000000">吉林 <tspan stroke="#000000" stroke-width="0.3">7</tspan></text><text x="573.6" y="196.2" fill="#000000">辽宁</text><text x="573.6" y="209.4" fill="#000000"><tspan stroke="#000000" stroke-width="0.3">52</tspan></text><text x="629.6" y="223.4" fill="#000000">北京 <tspan stroke="#000000" stroke-width="0.3">19</tspan></text><text x="627.8" y="271.4" fill="#000000">天津 <tspan stroke="#000000" stroke-width="0.3">7</tspan></text><text x="483.4" y="248.8" fill="#ffffff">河北</text><text x="483.4" y="263.2" fill="#ffffff"><tspan stroke="#ffffff" stroke-width="0.3">76</tspan></text><text x="449.0" y="265.2" fill="#000000">山西</text><text x="449.8" y="278.6" fill="#000000"><tspan stroke="#000000" stroke-width="0.3">41</tspan></text><text x="520.6" y="283.8" fill="#ffffff">山东</text><text x="521.6" y="296.6" fill="#ffffff"><tspan stroke="#ffffff" stroke-width="0.3">121</tspan></text><text x="471.8" y="324.6" fill="#ffffff">河南</text><text x="472.8" y="337.6" fill="#ffffff"><tspan stroke="#ffffff" stroke-width="0.3">99</tspan></text><text x="421.2" y="312.2" fill="#000000">陕西</text><text x="422.0" y="325.2" fill="#000000"><tspan stroke="#000000" stroke-width="0.3">38</tspan></text><text x="331.2" y="376.4" fill="#000000">四川</text><text x="330.6" y="390.6" fill="#000000"><tspan stroke="#000000" stroke-width="0.3">37</tspan></text><text x="404.6" y="391.2" fill="#000000">重庆</text><text x="405.6" y="404.2" fill="#000000"><tspan stroke="#000000" stroke-width="0.3">10</tspan></text><text x="456.2" y="374.8" fill="#000000">湖北</text><text x="457.2" y="388.6" fill="#000000"><tspan stroke="#000000" stroke-width="0.3">40</tspan></text><text x="517.8" y="355.6" fill="#000000">安徽</text><text x="518.8" y="369.4" fill="#000000"><tspan stroke="#000000" stroke-width="0.3">41</tspan></text><text x="548.4" y="332.2" fill="#3a0000">江苏</text><text x="548.4" y="346.2" fill="#3a0000"><tspan stroke="#3a0000" stroke-width="0.3">75</tspan></text><text x="599.4" y="357.6" fill="#000000">上海 <tspan stroke="#000000" stroke-width="0.3">6</tspan></text><text x="566.0" y="389.4" fill="#000000">浙江</text><text x="567.0" y="403.4" fill="#000000"><tspan stroke="#000000" stroke-width="0.3">52</tspan></text><text x="511.5" y="419.4" fill="#000000">江西</text><text x="511.9" y="434.0" fill="#000000"><tspan stroke="#000000" stroke-width="0.3">28</tspan></text><text x="456.0" y="423.6" fill="#000000">湖南</text><text x="456.0" y="437.0" fill="#000000"><tspan stroke="#000000" stroke-width="0.3">33</tspan></text><text x="548.8" y="438.4" fill="#000000">福建</text><text x="548.8" y="452.2" fill="#000000"><tspan stroke="#000000" stroke-width="0.3">24</tspan></text><text x="394.4" y="441.2" fill="#000000">贵州</text><text x="395.4" y="455.1" fill="#000000"><tspan stroke="#000000" stroke-width="0.3">11</tspan></text><text x="316.8" y="473.0" fill="#000000">云南</text><text x="317.7" y="487.2" fill="#000000"><tspan stroke="#000000" stroke-width="0.3">15</tspan></text><text x="416.2" y="494.0" fill="#000000">广西</text><text x="416.5" y="507.7" fill="#000000"><tspan stroke="#000000" stroke-width="0.3">41</tspan></text><text x="487.6" y="488.0" fill="#ffffff">广东</text><text x="487.6" y="503.4" fill="#ffffff"><tspan stroke="#ffffff" stroke-width="0.3">92</tspan></text><text x="386.2" y="575.2" fill="#000000">海南 <tspan stroke="#000000" stroke-width="0.3">8</tspan></text><text x="570.9" y="558.0" fill="#000000">香港 <tspan stroke="#000000" stroke-width="0.3">0</tspan></text><text x="512.8" y="593.8" fill="#000000">澳门 <tspan stroke="#000000" stroke-width="0.3">0</tspan></text>
</svg>
<div class="shade"></div>
<div class="topline"></div>
<div class="botline"></div>
<div class="bt" style="left:20px;top:714px;font-size:28px;">611Study.ICU</div>
<div class="bt cj" style="left:22px;top:749px;font-size:24px;letter-spacing:1.83px;">全国小初高中超时学习学校耻辱名单</div>
<div class="bt" style="right:22px;top:713px;font-size:26px;letter-spacing:0.9px;"><span class="cj" style="font-size:24.3px;letter-spacing:1.3px;position:relative;top:1px">总共</span>1039</div>
<div class="bt" style="right:19.6px;top:746.5px;font-size:26.3px;letter-spacing:1.4px;">2025<span class="cj" style="font-size:24.3px;position:relative;top:1px">年</span>2<span class="cj" style="font-size:24.3px;position:relative;top:1px">月</span>5<span class="cj" style="font-size:24.3px;position:relative;top:1px">日</span></div>
</body></html>
